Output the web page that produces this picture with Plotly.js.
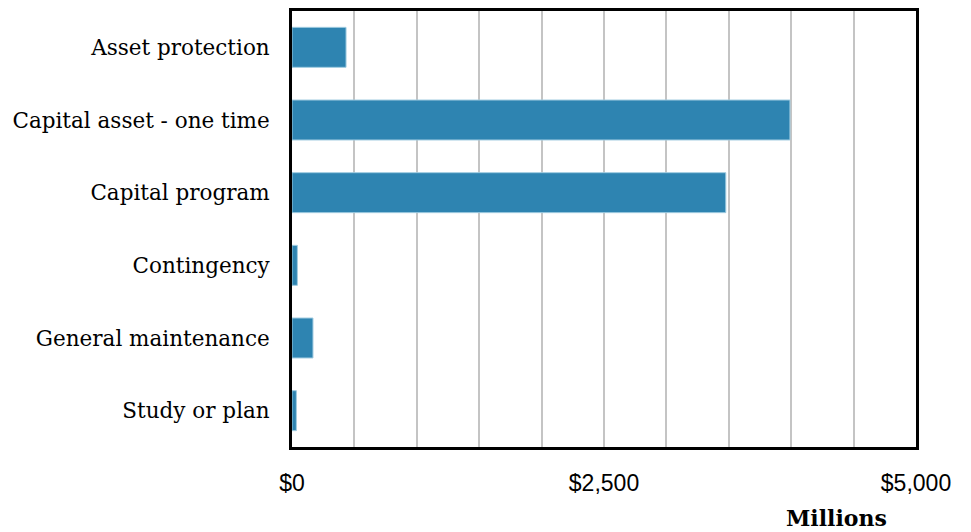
<!DOCTYPE html>
<html>
<head>
<meta charset="utf-8">
<script src="https://cdn.plot.ly/plotly-3.0.1.min.js"></script>
<style>html,body{margin:0;padding:0;background:#fff;}#chart{width:971px;height:532px;}</style>
</head>
<body>
<div id="chart"></div>
<script>
const categories = ["Asset protection", "Capital asset - one time", "Capital program", "Contingency", "General maintenance", "Study or plan"];
const values = [433, 3990, 3476, 43, 168, 35];
const tickValues = [0, 2500, 5000];
const tickLabels = ["$0", "$2,500", "$5,000"];

const trace = {
  type: "bar",
  orientation: "h",
  y: categories,
  x: values,
  marker: { color: "#2E84B1", line: { color: "#9fcbe0", width: 1 } },
  hoverinfo: "x+y"
};

const layout = {
  width: 971,
  height: 532,
  margin: { l: 292, r: 55, t: 11, b: 85 },
  paper_bgcolor: "#ffffff",
  plot_bgcolor: "#ffffff",
  bargap: 0.45,
  showlegend: false,
  xaxis: {
    range: [0, 5000],
    tickmode: "array",
    tickvals: tickValues,
    ticktext: tickLabels,
    showgrid: false,
    zeroline: false,
    showline: true,
    mirror: true,
    linecolor: "#000000",
    linewidth: 3,
    ticks: "",
    ticklabelstandoff: 13,
    tickfont: { family: "Liberation Sans, Arial, sans-serif", size: 23, color: "#000" },
    minor: { tickmode: "linear", tick0: 0, dtick: 500, showgrid: true, gridcolor: "#c4c4c4", gridwidth: 2 }
  },
  yaxis: {
    type: "category",
    autorange: "reversed",
    showgrid: false,
    zeroline: false,
    showline: true,
    mirror: true,
    linecolor: "#000000",
    linewidth: 3,
    ticks: "",
    ticklabelstandoff: 15,
    tickfont: { family: "DejaVu Serif, serif", size: 21.5, color: "#000" }
  },
  annotations: [{
    text: "<b>Millions</b>",
    xref: "paper", yref: "paper",
    x: 0.873, y: -0.163,
    xanchor: "center", yanchor: "middle",
    showarrow: false,
    font: { family: "DejaVu Serif, serif", size: 22, color: "#000" }
  }]
};

Plotly.newPlot("chart", [trace], layout, { displayModeBar: false, staticPlot: true });
</script>
</body>
</html>
